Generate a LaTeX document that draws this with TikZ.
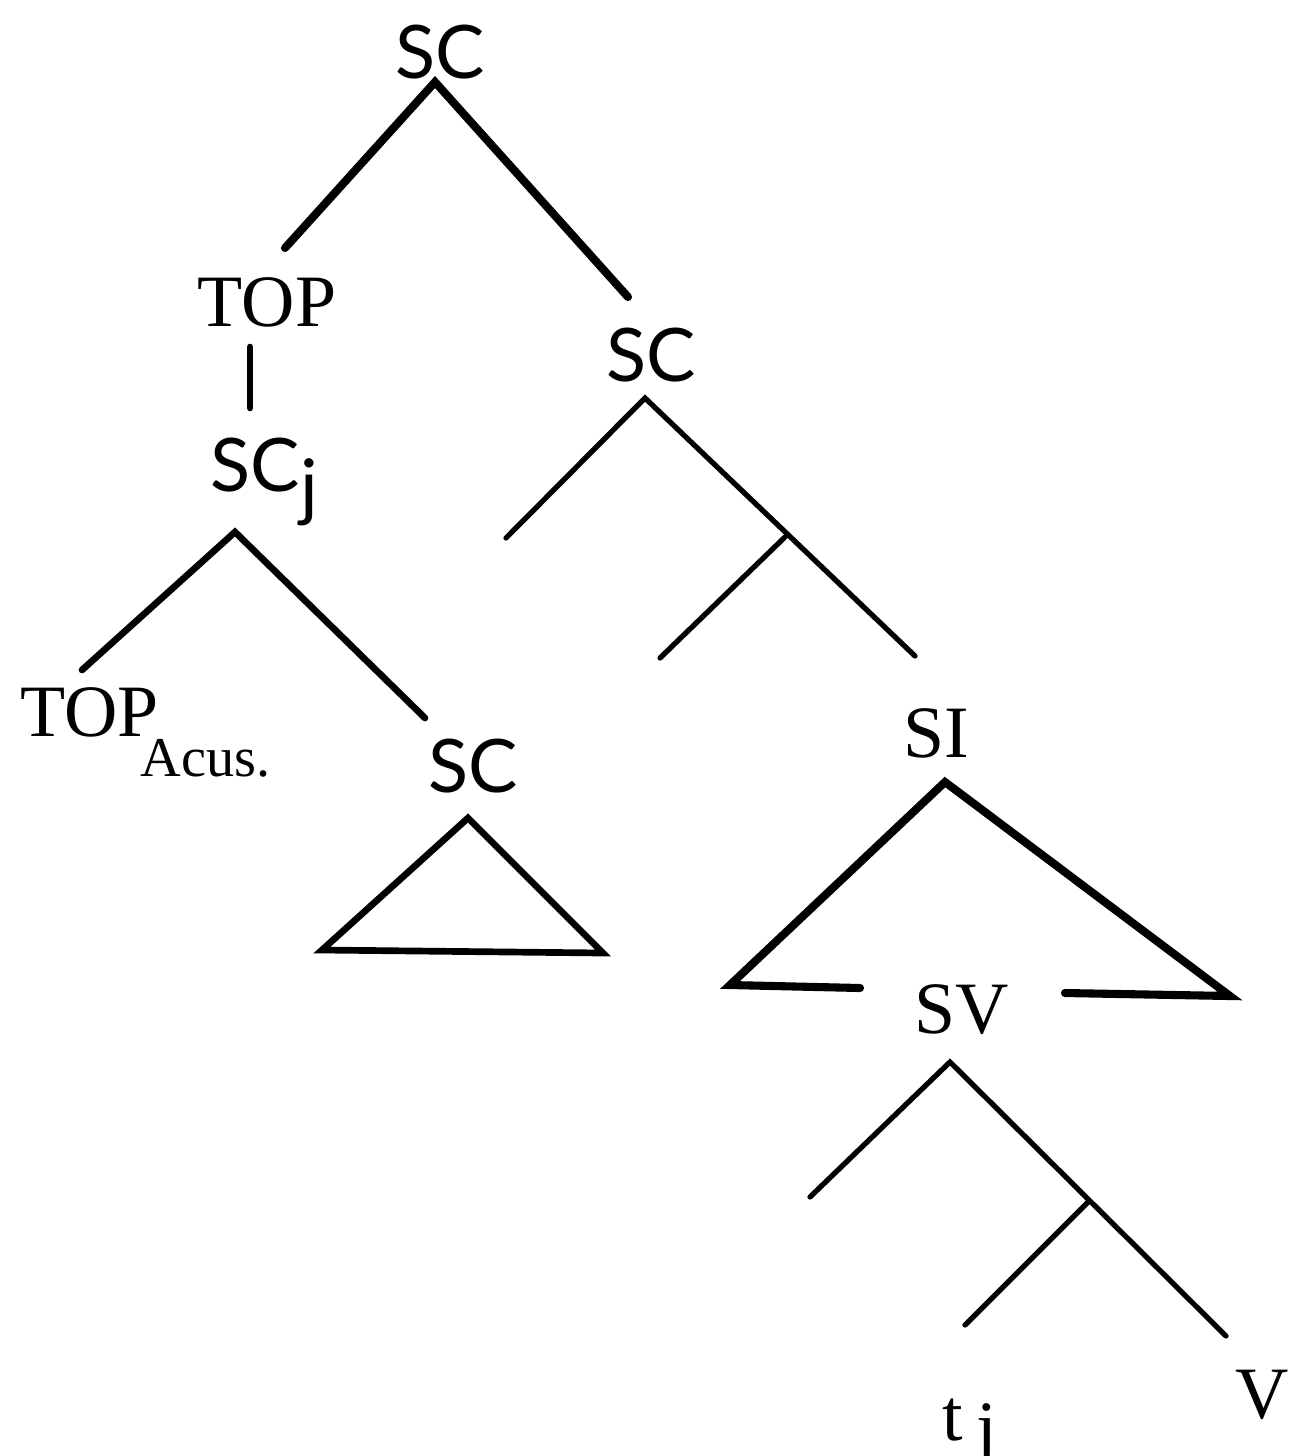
\documentclass[tikz,border=0pt]{standalone}
\usepackage{fontspec}
\setmainfont{Liberation Serif}
\newfontfamily\scfont{Lato}
\begin{document}
\begin{tikzpicture}[x=0.01cm,y=-0.01cm,
  lbl/.style={inner sep=0pt, font=\fontsize{21}{24}\selectfont},
  sublbl/.style={inner sep=0pt, font=\fontsize{16}{19}\selectfont},
  slbl/.style={inner sep=0pt, font=\scfont\fontsize{21}{24}\selectfont},
  thick/.style={line width=2.3pt, line cap=round},
  mid/.style={line width=1.9pt, line cap=round},
  thin/.style={line width=1.5pt, line cap=round}]
\useasboundingbox[fill=white] (0,0) rectangle (1295,1456);
% labels
\node[slbl] (sc0) at (440,52) {SC};
\node[lbl] (top) at (267,302) {TOP};
\node[slbl] (scj) at (255,465) {SC};
\node[slbl,anchor=west] (j1) at (300,492) {j};
\node[lbl,anchor=west] (topa) at (20,712) {TOP};
\node[sublbl,anchor=west] (acus) at (140,758) {Acus.};
\node[slbl] (sc2) at (473,766) {SC};
\node[slbl] (sc1) at (651,355) {SC};
\node[lbl] (si) at (936,733) {SI};
\node[lbl] (sv) at (962,1010) {SV};
\node[lbl] (t) at (953,1420) {t};
\node[lbl,anchor=west] (j2) at (976,1436) {j};
\node[lbl] (v) at (1262,1395) {V};
% coordinates
\coordinate (a0) at (435,82);
\coordinate (a1) at (285,248);
\coordinate (a2) at (628,297);
\coordinate (b0) at (250,347);
\coordinate (b1) at (250,408);
\coordinate (c0) at (235,532);
\coordinate (c1) at (82,670);
\coordinate (c2) at (425,718);
\coordinate (d0) at (468,818);
\coordinate (d1) at (322,950);
\coordinate (d2) at (603,953);
\coordinate (e0) at (645,398);
\coordinate (e1) at (506,538);
\coordinate (e2) at (915,656);
\coordinate (e3) at (785,537);
\coordinate (e4) at (660,658);
\coordinate (f0) at (945,782);
\coordinate (f1) at (730,985);
\coordinate (f2) at (1230,996);
\coordinate (f3) at (860,988);
\coordinate (f4) at (1065,993);
\coordinate (g0) at (950,1062);
\coordinate (g1) at (810,1197);
\coordinate (g2) at (1226,1336);
\coordinate (g3) at (1088,1202);
\coordinate (g4) at (965,1325);
% edges
\draw[thick] (a1) -- (a0) -- (a2);
\draw[mid] (b0) -- (b1);
\draw[mid] (c1) -- (c0) -- (c2);
\draw[mid, line join=miter] (d0) -- (d1) -- (d2) -- cycle;
\draw[thin] (e1) -- (e0) -- (e2);
\draw[thin] (e3) -- (e4);
\draw[thick] (f3) -- (f1) -- (f0) -- (f2) -- (f4);
\draw[thin] (g1) -- (g0) -- (g2);
\draw[thin] (g3) -- (g4);
\end{tikzpicture}
\end{document}
